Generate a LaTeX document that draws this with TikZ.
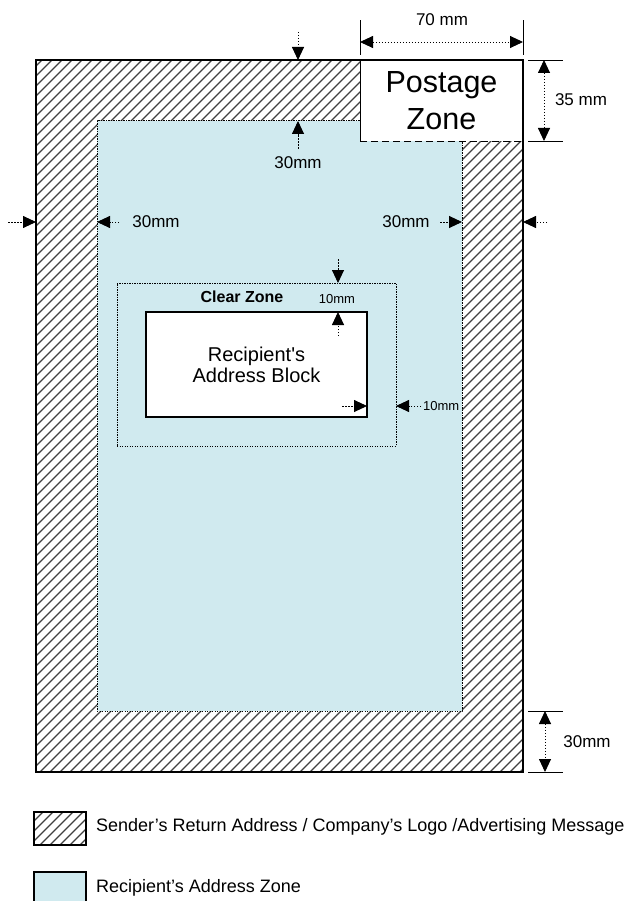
\documentclass[tikz,border=0pt]{standalone}
\usepackage{fontspec}
\setmainfont{Liberation Sans}
\usetikzlibrary{arrows.meta,calc}

\definecolor{zoneblue}{RGB}{208,234,239}

\begin{document}
\begin{tikzpicture}[
  x=1pt, y=-1pt,
  >={Triangle[length=13pt,width=12pt]},
  box/.style={inner sep=0pt, outer sep=0pt},
  hatch/.style={black!75, line width=1.2pt},
  dotline/.style={line width=1pt, dash pattern=on 1.2pt off 1.3pt},
  dim/.style={line width=0.9pt, dash pattern=on 1.5pt off 1.5pt, ->},
  dimboth/.style={line width=0.9pt, dash pattern=on 1.5pt off 1.5pt, <->},
  tick/.style={line width=0.8pt},
  lbl/.style={inner sep=0pt, font=\fontsize{17}{20}\selectfont},
  small/.style={inner sep=0pt, font=\fontsize{13}{15}\selectfont}
]
  \useasboundingbox (0,0) rectangle (627,901);

  % envelope and its zones
  \node[box, minimum width=487pt, minimum height=712pt] (env) at (279.5,416) {};
  \begin{scope}
    \clip (env.south west) rectangle (env.north east);
    \foreach \i in {-720,-710,...,530}
      \draw[hatch] (\i,772) -- ++(720,-720);
  \end{scope}
  \node[box, fill=zoneblue, draw, dotline, minimum width=365pt, minimum height=590pt] (rzone) at (279.5,416) {};
  \node[box, fill=white, minimum width=163pt, minimum height=81pt,
    align=center, font=\fontsize{30.5}{37}\selectfont] (stamp) at (441.5,100.5) {Postage\\Zone};
  \draw[line width=0.6pt] (stamp.north west) -- (stamp.south west);
  \draw[line width=0.9pt, dash pattern=on 7pt off 4pt] (stamp.south west) -- (stamp.south east);
  \draw[line width=1.2pt] (env.south west) rectangle (env.north east);

  \node[box, draw, dotline, minimum width=279pt, minimum height=163pt] (clear) at (256.5,364.5) {};
  \node[box, draw, fill=white, line width=1.2pt, minimum width=221pt, minimum height=105pt,
    align=center, font=\fontsize{20}{21}\selectfont] (addr) at (256.5,364.5) {Recipient\textquotesingle s\\Address Block};
  \node[lbl, font=\fontsize{16}{18}\selectfont\bfseries] (cz) at (242,297) {Clear Zone};

  % 70 mm
  \draw[tick] ([yshift=5pt]stamp.north west) -- ([yshift=40pt]stamp.north west);
  \draw[tick] ([yshift=5pt]stamp.north east) -- ([yshift=40pt]stamp.north east);
  \draw[dimboth] ([yshift=18pt]stamp.north west) -- ([yshift=18pt]stamp.north east);
  \node[lbl] (l70) at (442,20) {70 mm};

  % 35 mm
  \draw[tick] ([xshift=5pt]stamp.north east) -- ([xshift=40pt]stamp.north east);
  \draw[tick] ([xshift=5pt]stamp.south east) -- ([xshift=40pt]stamp.south east);
  \draw[dimboth] ([xshift=21pt]stamp.north east) -- ([xshift=21pt]stamp.south east);
  \node[lbl] (l35) at (581,100) {35 mm};

  % 30mm bottom
  \draw[tick] ([xshift=5pt]env.south east) -- ([xshift=40pt]env.south east);
  \draw[tick] ([xshift=5pt]env.east |- rzone.south) -- ([xshift=40pt]env.east |- rzone.south);
  \draw[dimboth] ([xshift=22pt]env.east |- rzone.south) -- ([xshift=22pt]env.south east);
  \node[lbl] (lbot) at (587,742) {30mm};

  % 30mm top
  \coordinate (topA) at (298,32);
  \coordinate (topB) at (298,149);
  \draw[dim] (topA) -- (topA |- env.north);
  \draw[dim] (topB) -- (topB |- rzone.north);
  \node[lbl] (ltop) at (298,163) {30mm};

  % 30mm left and right
  \coordinate (lftA) at (8,222);
  \coordinate (lftB) at (119,222);
  \coordinate (rgtA) at (440,222);
  \coordinate (rgtB) at (547,222);
  \draw[dim] (lftA) -- (lftA -| env.west);
  \draw[dim] (lftB) -- (lftB -| rzone.west);
  \draw[dim] (rgtA) -- (rgtA -| rzone.east);
  \draw[dim] (rgtB) -- (rgtB -| env.east);
  \node[lbl] (llft) at (156,222) {30mm};
  \node[lbl] (lrgt) at (406,222) {30mm};

  % clear zone margins
  \coordinate (czA) at (338,259);
  \coordinate (czB) at (338,336);
  \coordinate (czC) at (342,406);
  \coordinate (czD) at (421,406);
  \draw[dim] (czA) -- (czA |- clear.north);
  \draw[dim] (czB) -- (czB |- addr.north);
  \draw[dim] (czC) -- (czC -| addr.east);
  \draw[dim] (czD) -- (czD -| clear.east);
  \node[small] (l10a) at (337,299) {10mm};
  \node[small, anchor=west] (l10b) at (423,406) {10mm};

  % legend
  \node[box, minimum width=52pt, minimum height=33pt] (key1) at (60,828.5) {};
  \begin{scope}
    \clip (key1.south west) rectangle (key1.north east);
    \foreach \i in {-40,-30,...,90}
      \draw[hatch] (\i,845) -- ++(40,-40);
  \end{scope}
  \draw[line width=1.5pt] (key1.south west) rectangle (key1.north east);
  \node[box, draw, fill=zoneblue, line width=1.5pt, minimum width=52pt, minimum height=33pt] (key2) at (60,888.5) {};
  \node[lbl, font=\fontsize{18}{20}\selectfont, anchor=west] (t1) at (96,827) {Sender’s Return Address / Company’s Logo /Advertising Message};
  \node[lbl, font=\fontsize{18}{20}\selectfont, anchor=west] (t2) at (96,888) {Recipient’s Address Zone};
\end{tikzpicture}
\end{document}
